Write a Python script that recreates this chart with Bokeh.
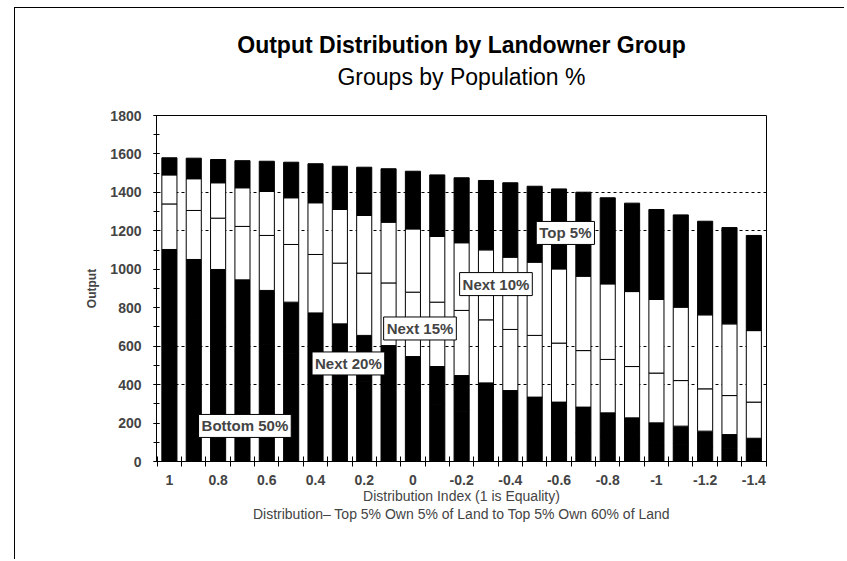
from bokeh.plotting import figure
from bokeh.models import (ColumnDataSource, Range1d, FixedTicker, SingleIntervalTicker,
                          CustomJSTickFormatter, Label, Title, LinearAxis)
from bokeh.embed import file_html
from bokeh.resources import INLINE

# ---- data ----
dist_index = [1.0, 0.9, 0.8, 0.7, 0.6, 0.5, 0.4, 0.3, 0.2, 0.1, 0.0, -0.1, -0.2,
              -0.3, -0.4, -0.5, -0.6, -0.7, -0.8, -0.9, -1.0, -1.1, -1.2, -1.3, -1.4]
bottom_50 = [790, 745, 700, 655, 610, 560, 512, 465, 418, 375, 333, 295, 262,
             232, 205, 182, 164, 148, 130, 115, 100, 90, 76, 66, 56]
next_20 = [313, 306, 299, 290, 280, 269, 261, 251, 238, 228, 213, 199, 185,
           177, 164, 153, 145, 135, 123, 112, 101, 94, 82, 74, 65]
next_15 = [237, 255, 267, 278, 286, 300, 304, 316, 324, 326, 335, 335, 339,
           328, 318, 321, 307, 294, 278, 267, 259, 237, 220, 203, 188]
next_10 = [151, 165, 184, 201, 229, 243, 269, 279, 300, 316, 329, 342, 352,
           364, 376, 381, 386, 387, 393, 390, 383, 382, 385, 373, 372]
top_5 = [89, 107, 121, 141, 157, 185, 203, 225, 251, 278, 300, 320, 338,
         361, 387, 395, 416, 437, 448, 460, 468, 480, 487, 501, 495]
series_names = ["Bottom 50%", "Next 20%", "Next 15%", "Next 10%", "Top 5%"]
x_tick_values = [1.0, 0.8, 0.6, 0.4, 0.2, 0.0, -0.2, -0.4, -0.6, -0.8, -1.0, -1.2, -1.4]
category_edges = [1.05, 0.95, 0.85, 0.75, 0.65, 0.55, 0.45, 0.35, 0.25, 0.15, 0.05,
                  -0.05, -0.15, -0.25, -0.35, -0.45, -0.55, -0.65, -0.75, -0.85,
                  -0.95, -1.05, -1.15, -1.25, -1.35, -1.45]
grid_levels = [400, 600, 1200, 1400]

FONT = "Liberation Sans"

src = ColumnDataSource(dict(idx=dist_index, b50=bottom_50, n20=next_20,
                            n15=next_15, n10=next_10, t5=top_5))

p = figure(width=830, height=552, output_backend="svg", toolbar_location=None,
           x_range=Range1d(1.053, -1.452), y_range=Range1d(0, 1800),
           min_border_left=141, min_border_right=79, min_border_top=107,
           min_border_bottom=99, title=None)
p.margin = (7, 0, 0, 14)
p.styles = {"border-left": "1px solid black", "border-top": "1px solid black"}
p.background_fill_color = "white"
p.border_fill_color = "white"
p.outline_line_color = "black"
p.outline_line_width = 1

p.vbar_stack(["b50", "n20", "n15", "n10", "t5"], x="idx", width=0.062, source=src,
             fill_color=["black", "black", "white", "white", "black"],
             line_color="black", line_width=1)

# grid
p.xgrid.visible = False
p.ygrid.ticker = FixedTicker(ticks=grid_levels)
p.ygrid.grid_line_color = "black"
p.ygrid.grid_line_dash = "3 3"
p.ygrid.grid_line_width = 1

# subtitle carried by a bare axis above the frame, main title above it
sub_axis = LinearAxis(ticker=FixedTicker(ticks=[]), axis_line_color=None,
                      major_tick_out=0, major_tick_in=0, minor_tick_out=0, minor_tick_in=0,
                      major_label_standoff=0, axis_label="Groups by Population %",
                      axis_label_text_font=FONT, axis_label_text_font_size="23px",
                      axis_label_text_font_style="normal", axis_label_text_color="black",
                      axis_label_standoff=26)
p.add_layout(sub_axis, "above")
p.add_layout(Title(text="Output Distribution by Landowner Group", align="center",
                   text_font=FONT, text_font_size="23px", text_font_style="bold",
                   text_color="black", standoff=6), "above")

# y axis
yax = p.left[0]
yax.ticker = SingleIntervalTicker(interval=200, num_minor_ticks=2)
yax.axis_label = "Output"
yax.axis_label_text_font = FONT
yax.axis_label_text_font_size = "12px"
yax.axis_label_text_font_style = "bold"
yax.axis_label_standoff = 8
yax.major_label_text_font = FONT
yax.major_label_text_font_size = "14px"
yax.major_label_text_font_style = "bold"
yax.major_label_standoff = 12
yax.axis_line_color = "black"
yax.major_tick_in = 3
yax.major_tick_out = 3
yax.minor_tick_in = 3
yax.minor_tick_out = 3
yax.major_tick_line_color = "black"
yax.minor_tick_line_color = "black"

# x axis (the one below the frame)
xax = p.below[0]
xax.ticker = FixedTicker(ticks=x_tick_values, minor_ticks=category_edges)
xax.formatter = CustomJSTickFormatter(code="return Number(tick.toFixed(1)).toString();")
xax.axis_line_color = None
xax.major_tick_in = 0
xax.major_tick_out = 0
xax.minor_tick_in = 5
xax.minor_tick_out = 5
xax.minor_tick_line_color = "black"
xax.major_label_text_font = FONT
xax.major_label_text_font_size = "14px"
xax.major_label_text_font_style = "bold"
xax.major_label_standoff = 8
xax.axis_label = ("Distribution Index (1 is Equality)\n"
                  "Distribution\u2013 Top 5% Own 5% of Land to Top 5% Own 60% of Land")
xax.axis_label_text_font = FONT
xax.axis_label_text_font_size = "14px"
xax.axis_label_text_font_style = "normal"
xax.axis_label_text_line_height = 1.15
xax.axis_label_standoff = 0

# series labels
label_pos = [(0.69, 185), (0.265, 510), (-0.029, 692), (-0.341, 923), (-0.626, 1189)]
for name, (lx, ly) in zip(series_names, label_pos):
    p.add_layout(Label(x=lx, y=ly, text=name, text_align="center", text_baseline="middle",
                       text_font=FONT, text_font_size="15px", text_font_style="bold",
                       background_fill_color="white", border_line_color="black",
                       border_line_width=1, padding=3))

open("out.html", "w").write(file_html(p, INLINE))
